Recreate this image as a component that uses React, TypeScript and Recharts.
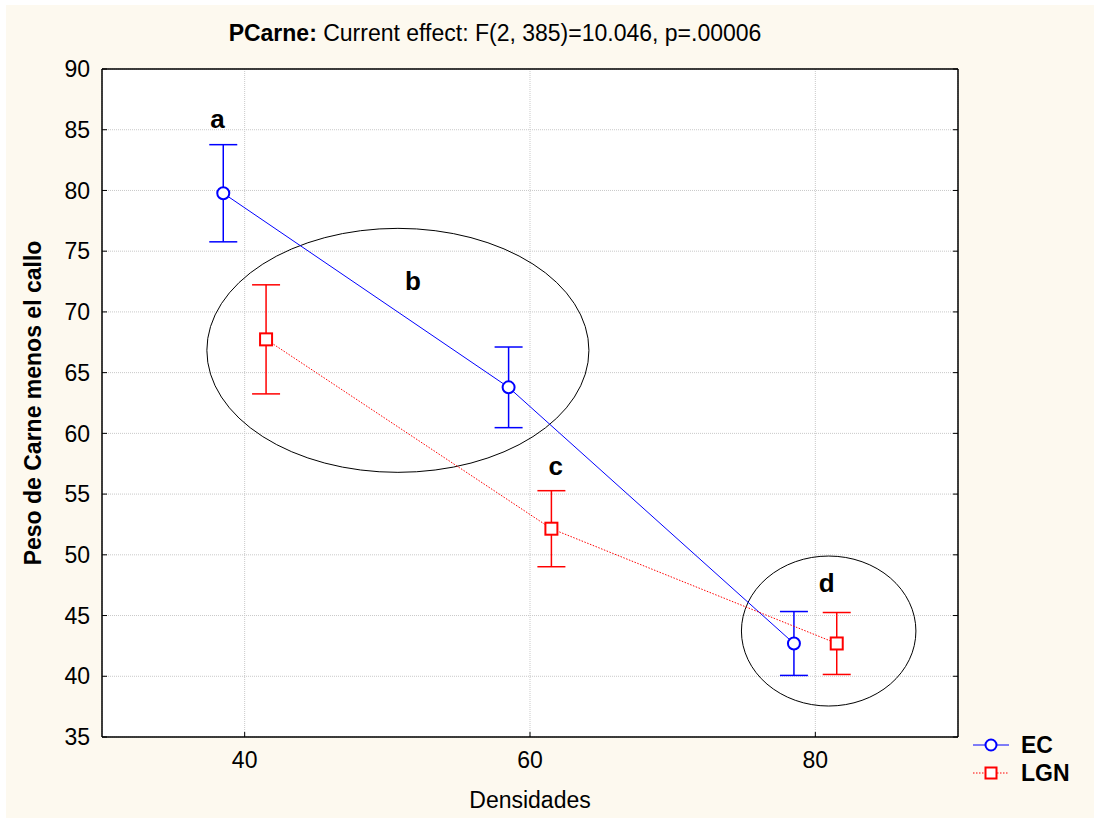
import React from "react";
import {
  ComposedChart,
  Scatter,
  XAxis,
  YAxis,
  CartesianGrid,
  ErrorBar,
  ReferenceArea,
  ReferenceDot,
  Legend,
} from "recharts";

// ---------------------------------------------------------------------------
// Data
// ---------------------------------------------------------------------------

const xTicks = [40, 60, 80];
const yTicks = [35, 40, 45, 50, 55, 60, 65, 70, 75, 80, 85, 90];

// EC series: x is the density, slightly offset to the left
const ecX = [38.5, 58.5, 78.5];
const ecMean = [79.77, 63.79, 42.7];
const ecErr = [4.0, 3.32, 2.63];

// LGN series: offset to the right
const lgnX = [41.5, 61.5, 81.5];
const lgnMean = [67.74, 52.15, 42.7];
const lgnErr = [4.49, 3.13, 2.55];

// group letters
const letterText = ["a", "b", "c", "d"];
const letterX = [38.1, 51.8, 61.8, 80.8];
const letterY = [85.9, 72.6, 57.3, 47.7];

// grouping ellipses (bounding box in data units)
const ellipseX1 = [37.35, 74.82];
const ellipseX2 = [64.13, 87.05];
const ellipseY1 = [56.79, 37.55];
const ellipseY2 = [76.88, 49.9];

const BLUE = "#0000ff";
const RED = "#ff0000";
const FONT = "Arial, 'Liberation Sans', sans-serif";

const ecData = ecX.map((x, i) => ({ x, y: ecMean[i], err: ecErr[i] }));
const lgnData = lgnX.map((x, i) => ({ x, y: lgnMean[i], err: lgnErr[i] }));

// ---------------------------------------------------------------------------
// Shapes
// ---------------------------------------------------------------------------

function CircleMarker(props: any) {
  const { cx, cy } = props;
  return <circle cx={cx} cy={cy} r={6} fill="#fff" stroke={BLUE} strokeWidth={2} />;
}

function SquareMarker(props: any) {
  const { cx, cy } = props;
  return (
    <rect x={cx - 6} y={cy - 6} width={12} height={12} fill="#fff" stroke={RED} strokeWidth={2} />
  );
}

function EllipseShape(props: any) {
  const { x, y, width, height } = props;
  return (
    <ellipse
      cx={x + width / 2}
      cy={y + height / 2}
      rx={width / 2}
      ry={height / 2}
      fill="none"
      stroke="#000"
      strokeWidth={1}
    />
  );
}

function LegendContent() {
  const rows = [
    { name: "EC", color: BLUE, dash: undefined as string | undefined, square: false },
    { name: "LGN", color: RED, dash: "1.5 1.5", square: true },
  ];
  return (
    <div style={{ fontFamily: FONT }}>
      {rows.map((r) => (
        <div key={r.name} style={{ display: "flex", alignItems: "center", height: 28 }}>
          <svg width={38} height={16} style={{ marginRight: 10 }}>
            <line x1={0} x2={36} y1={8} y2={8} stroke={r.color} strokeWidth={1} strokeDasharray={r.dash} />
            {r.square ? (
              <rect x={12.5} y={2.5} width={11} height={11} fill="#fff" stroke={r.color} strokeWidth={2} />
            ) : (
              <circle cx={18} cy={8} r={5.5} fill="#fff" stroke={r.color} strokeWidth={2} />
            )}
          </svg>
          <span style={{ fontWeight: 700, fontSize: 23, color: "#000" }}>{r.name}</span>
        </div>
      ))}
    </div>
  );
}

// ---------------------------------------------------------------------------
// Component
// ---------------------------------------------------------------------------

export default function App() {
  const tickStyle = { fill: "#000", fontSize: 23, fontFamily: FONT };
  return (
    <div
      style={{
        position: "absolute",
        left: 6,
        top: 5,
        width: 1088,
        height: 813,
        background: "#fdf9ef",
        fontFamily: FONT,
      }}
    >
      <div
        style={{
          position: "absolute",
          left: 0,
          width: 978,
          top: 14,
          textAlign: "center",
          fontSize: 23,
          lineHeight: "28px",
          color: "#000",
        }}
      >
        <b>PCarne:</b> Current effect: F(2, 385)=10.046, p=.00006
      </div>
      <ComposedChart
        width={1088}
        height={813}
        margin={{ top: 63, right: 135, bottom: 31, left: 26 }}
        style={{ position: "absolute", left: 0, top: 0 }}
      >
        <CartesianGrid fill="#fff" stroke="#c9c9c9" strokeDasharray="1 1" />
        <XAxis
          dataKey="x"
          type="number"
          domain={[30, 90]}
          ticks={xTicks}
          allowDataOverflow
          height={50}
          tickSize={-5}
          tickMargin={20}
          tick={tickStyle}
          axisLine={{ stroke: "#000", strokeWidth: 1.5 }}
          tickLine={{ stroke: "#000" }}
          label={{
            content: ({ viewBox }: any) => (
              <text
                x={viewBox.x + viewBox.width / 2}
                y={viewBox.y + 71}
                textAnchor="middle"
                fontSize={23}
                fontFamily={FONT}
                fill="#000"
              >
                Densidades
              </text>
            ),
          }}
        />
        <XAxis
          xAxisId="top"
          orientation="top"
          type="number"
          domain={[30, 90]}
          ticks={xTicks}
          allowDataOverflow
          height={1}
          tickSize={-5}
          tickFormatter={() => ""}
          axisLine={{ stroke: "#000", strokeWidth: 1.5 }}
          tickLine={{ stroke: "#000" }}
        />
        <YAxis
          type="number"
          domain={[35, 90]}
          ticks={yTicks}
          allowDataOverflow
          width={70}
          tickSize={-5}
          tickMargin={17}
          tick={tickStyle}
          axisLine={{ stroke: "#000", strokeWidth: 1.5 }}
          tickLine={{ stroke: "#000" }}
          label={{
            content: ({ viewBox }: any) => {
              const cx = viewBox.x + 1;
              const cy = viewBox.y + viewBox.height / 2;
              return (
                <text
                  x={cx}
                  y={cy}
                  transform={`rotate(-90, ${cx}, ${cy})`}
                  textAnchor="middle"
                  dominantBaseline="central"
                  fontSize={23}
                  fontWeight={700}
                  fontFamily={FONT}
                  fill="#000"
                >
                  Peso de Carne menos el callo
                </text>
              );
            },
          }}
        />
        <YAxis
          yAxisId="right"
          orientation="right"
          type="number"
          domain={[35, 90]}
          ticks={yTicks}
          allowDataOverflow
          width={1}
          tickSize={-5}
          tickFormatter={() => ""}
          axisLine={{ stroke: "#000", strokeWidth: 1.5 }}
          tickLine={{ stroke: "#000" }}
        />

        {ellipseX1.map((x1, i) => (
          <ReferenceArea
            key={`ell-${i}`}
            x1={x1}
            x2={ellipseX2[i]}
            y1={ellipseY1[i]}
            y2={ellipseY2[i]}
            shape={<EllipseShape />}
          />
        ))}

        <Scatter
          name="EC"
          data={ecData}
          dataKey="y"
          line={{ stroke: BLUE, strokeWidth: 1 }}
          lineType="joint"
          shape={<CircleMarker />}
          isAnimationActive={false}
        >
          <ErrorBar dataKey="err" direction="y" width={14} stroke={BLUE} strokeWidth={1.5} isAnimationActive={false} />
        </Scatter>
        <Scatter
          name="LGN"
          data={lgnData}
          dataKey="y"
          line={{ stroke: RED, strokeWidth: 1, strokeDasharray: "1.5 1.5" }}
          lineType="joint"
          shape={<SquareMarker />}
          isAnimationActive={false}
        >
          <ErrorBar dataKey="err" direction="y" width={14} stroke={RED} strokeWidth={1.5} isAnimationActive={false} />
        </Scatter>

        {letterText.map((t, i) => (
          <ReferenceDot
            key={`lt-${i}`}
            x={letterX[i]}
            y={letterY[i]}
            r={1}
            fill="none"
            stroke="none"
            label={{
              value: t,
              position: "center",
              fontSize: 26,
              fontWeight: 700,
              fontFamily: FONT,
              fill: "#000",
            }}
          />
        ))}

        <Legend
          layout="vertical"
          align="center"
          verticalAlign="middle"
          content={<LegendContent />}
          wrapperStyle={{ left: 967, top: 726, width: 120, height: 60 }}
        />
      </ComposedChart>
    </div>
  );
}
